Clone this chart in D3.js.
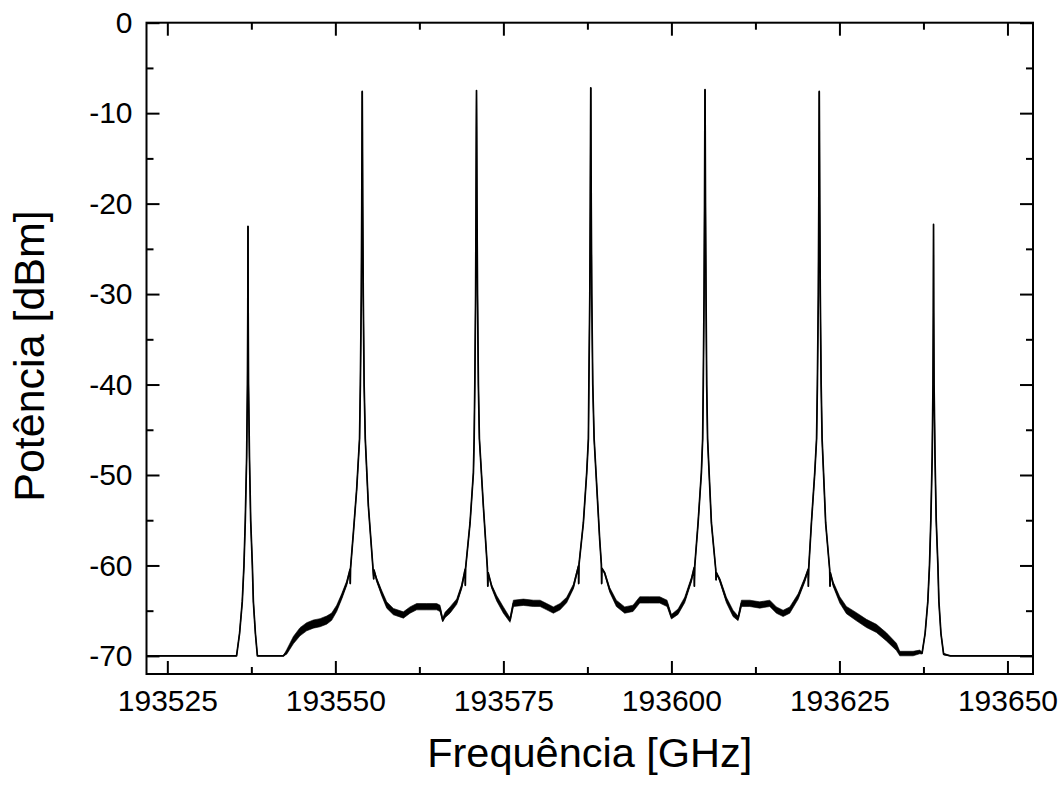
<!DOCTYPE html>
<html>
<head>
<meta charset="utf-8">
<script src="https://cdn.jsdelivr.net/npm/d3@7"></script>
<style>
  html, body { margin: 0; padding: 0; background: #fff; }
  svg { display: block; }
  text { font-family: "Liberation Sans", Arial, sans-serif; fill: #000; }
</style>
</head>
<body>
<svg id="chart" width="1061" height="785"></svg>
<script>
// ---- Data ----
const freqGHz = [
  193521.9, 193535.3,
  193535.75, 193536.15, 193536.4, 193536.6, 193536.8, 193536.92, 193536.97, 193537.0,
  193537.03, 193537.08, 193537.22, 193537.4, 193537.65, 193537.8, 193538.1, 193538.4,
  193542.26,
  193542.76, 193543.75, 193544.74, 193545.73, 193546.73, 193547.72, 193548.71, 193549.45,
  193550.2, 193550.94, 193551.69, 193552.18, 193552.22, 193552.26,
  193552.68, 193553.17, 193553.6, 193553.72, 193553.86, 193553.93, 193553.97, 193554.0,
  193554.03, 193554.07, 193554.15, 193554.28, 193554.45, 193554.91, 193555.56,
  193555.7, 193555.75, 193556.15, 193556.9, 193557.64, 193558.63, 193560.12, 193561.11,
  193562.1, 193563.59, 193565.08, 193565.57, 193565.97, 193566.32, 193567.06, 193568.06,
  193568.8, 193569.3, 193569.34, 193569.38,
  193570.04, 193570.54, 193570.65, 193570.75, 193570.87, 193570.93, 193570.97, 193571.0,
  193571.03, 193571.07, 193571.15, 193571.28, 193571.43, 193572.02, 193572.62,
  193572.68, 193572.74, 193573.26, 193574.0, 193575.0, 193575.99, 193576.49, 193577.98,
  193579.46, 193580.46, 193581.45, 193582.44, 193583.43, 193584.42, 193585.42, 193586.16,
  193586.2, 193586.25,
  193586.9, 193587.4, 193587.65, 193587.72, 193587.86, 193587.93, 193587.97, 193588.0,
  193588.03, 193588.07, 193588.15, 193588.3, 193588.5, 193589.33, 193589.58,
  193589.62, 193589.66, 193590.08, 193590.82, 193591.81, 193593.05, 193594.29, 193595.29,
  193596.77, 193598.26, 193599.35, 193600.0, 193600.99, 193601.98, 193602.97, 193603.37,
  193603.42, 193603.47,
  193603.97, 193604.46, 193604.65, 193604.74, 193604.86, 193604.93, 193604.97, 193605.0,
  193605.03, 193605.07, 193605.15, 193605.25, 193605.38, 193605.95, 193606.6,
  193606.65, 193606.7, 193607.19, 193608.18, 193609.17, 193609.92, 193610.42, 193611.66,
  193613.14, 193614.63, 193615.62, 193616.62, 193617.61, 193618.85, 193619.84, 193620.34,
  193620.38, 193620.43,
  193620.83, 193621.33, 193621.6, 193621.72, 193621.86, 193621.93, 193621.97, 193622.0,
  193622.03, 193622.07, 193622.15, 193622.28, 193622.42, 193622.95, 193623.55,
  193623.6, 193623.65, 193624.06, 193625.05, 193626.04, 193627.53, 193629.02, 193630.5,
  193631.99, 193633.48, 193633.98, 193635.96, 193636.95,
  193637.3, 193637.75, 193638.15, 193638.4, 193638.6, 193638.8, 193638.92, 193638.97, 193639.0,
  193639.03, 193639.08, 193639.22, 193639.4, 193639.65, 193639.8, 193640.1, 193640.5,
  193641.5, 193653.8
];
const powerDBm = [
  -70, -70,
  -67.5, -64, -60, -55, -48, -40, -32, -22.5,
  -32, -40, -48, -55, -60, -64, -67.5, -70,
  -70,
  -69.56, -68.26, -67.33, -66.78, -66.48, -66.33, -66.04, -65.67,
  -64.74, -63.44, -61.96, -60.48, -62.0, -60.3,
  -56.4, -51.6, -46, -40, -30, -20, -12, -7.6,
  -12, -20, -30, -40, -46, -53.4, -59.93,
  -61.5, -60.5, -61.6, -63.07, -64.37, -65.1, -65.48, -64.93,
  -64.56, -64.56, -64.56, -64.74, -66.04, -65.48, -64.93, -64.0,
  -62.33, -60.48, -62.2, -60.3,
  -55.3, -49.74, -46, -40, -30, -20, -12, -7.5,
  -12, -20, -30, -40, -46, -53.44, -60.3,
  -62.3, -60.8, -62.33, -63.63, -64.93, -66.04, -64.19, -64.07,
  -64.19, -64.19, -64.56, -64.93, -64.56, -63.81, -62.33, -60.11,
  -62.0, -59.9,
  -55.3, -49.74, -46, -40, -30, -20, -12, -7.2,
  -12, -20, -30, -40, -46, -57.15, -59.89,
  -62.0, -60.3, -60.85, -62.7, -64.19, -64.93, -64.74, -63.81,
  -63.81, -63.81, -64.19, -65.67, -65.11, -63.81, -61.59, -60.3,
  -62.3, -60.1,
  -55.3, -49.74, -46, -40, -30, -20, -12, -7.4,
  -12, -20, -30, -40, -46, -55.3, -60.48,
  -61.6, -60.8, -61.59, -63.81, -65.3, -65.85, -64.19, -64.19,
  -64.37, -64.19, -64.93, -65.3, -64.93, -63.44, -61.59, -60.48,
  -62.3, -60.3,
  -55.3, -49.74, -46, -40, -30, -20, -12, -7.6,
  -12, -20, -30, -40, -46, -55.3, -60.48,
  -62.3, -60.8, -62.04, -63.81, -64.93, -65.67, -66.41, -66.96,
  -67.89, -69.0, -69.74, -69.74, -69.56,
  -69.7, -67.5, -64, -60, -55, -48, -40, -32, -22.3,
  -32, -40, -48, -55, -60, -64, -67.5, -69.8,
  -70, -70
];
// half-width of the noise band around the trace (dB)
const noiseDB = [
  0, 0,
  0, 0, 0, 0, 0, 0, 0, 0,
  0, 0, 0, 0, 0, 0, 0, 0,
  0,
  0.25, 0.4, 0.45, 0.45, 0.45, 0.45, 0.45, 0.4,
  0.35, 0.3, 0.25, 0.15, 0, 0,
  0, 0, 0, 0, 0, 0, 0, 0,
  0, 0, 0, 0, 0, 0, 0.1,
  0, 0, 0.2, 0.3, 0.35, 0.35, 0.35, 0.35,
  0.35, 0.35, 0.35, 0.35, 0.2, 0.3, 0.35, 0.3,
  0.25, 0.15, 0, 0,
  0, 0, 0, 0, 0, 0, 0, 0,
  0, 0, 0, 0, 0, 0, 0.1,
  0, 0, 0.2, 0.3, 0.35, 0.25, 0.35, 0.35,
  0.35, 0.35, 0.35, 0.35, 0.35, 0.3, 0.25, 0.15,
  0, 0,
  0, 0, 0, 0, 0, 0, 0, 0,
  0, 0, 0, 0, 0, 0, 0.1,
  0, 0, 0.15, 0.25, 0.35, 0.35, 0.35, 0.35,
  0.35, 0.35, 0.35, 0.25, 0.3, 0.3, 0.25, 0.15,
  0, 0,
  0, 0, 0, 0, 0, 0, 0, 0,
  0, 0, 0, 0, 0, 0, 0.1,
  0, 0, 0.2, 0.3, 0.35, 0.25, 0.35, 0.35,
  0.35, 0.35, 0.35, 0.35, 0.35, 0.3, 0.25, 0.15,
  0, 0,
  0, 0, 0, 0, 0, 0, 0, 0,
  0, 0, 0, 0, 0, 0, 0.1,
  0, 0, 0.25, 0.35, 0.4, 0.45, 0.45, 0.45,
  0.45, 0.4, 0.25, 0.25, 0.2,
  0.1, 0, 0, 0, 0, 0, 0, 0, 0,
  0, 0, 0, 0, 0, 0, 0, 0.1,
  0, 0
];

const xMajorTicks = [193525, 193550, 193575, 193600, 193625, 193650];
const xMinorTicks = [193537.5, 193562.5, 193587.5, 193612.5, 193637.5];
const yMajorTicks = [0, -10, -20, -30, -40, -50, -60, -70];
const yMinorTicks = [-5, -15, -25, -35, -45, -55, -65];
const xDomain = [193521.9, 193653.8];
const yDomain = [-72, 0];
const xTitle = "Frequência [GHz]";
const yTitle = "Potência [dBm]";

// ---- Layout ----
const margin = { left: 146.5, top: 22.7, right: 1033, bottom: 674 };
const svg = d3.select("#chart");

const x = d3.scaleLinear().domain(xDomain).range([margin.left, margin.right]);
const y = d3.scaleLinear().domain(yDomain).range([margin.bottom, margin.top]);

const pts = freqGHz.map((f, i) => ({ f, p: powerDBm[i], n: noiseDB[i] }));

svg.append("defs").append("clipPath").attr("id", "plotclip")
  .append("rect")
  .attr("x", margin.left).attr("y", margin.top)
  .attr("width", margin.right - margin.left)
  .attr("height", margin.bottom - margin.top);

const g = svg.append("g").attr("clip-path", "url(#plotclip)");

// noise band
g.append("path")
  .datum(pts)
  .attr("fill", "#000")
  .attr("stroke", "#000")
  .attr("stroke-width", 0.6)
  .attr("d", d3.area()
    .x(d => x(d.f))
    .y0(d => y(d.p - d.n))
    .y1(d => y(d.p + d.n)));

// trace
g.append("path")
  .datum(pts)
  .attr("fill", "none")
  .attr("stroke", "#000")
  .attr("stroke-width", 1.7)
  .attr("stroke-linejoin", "round")
  .attr("d", d3.line().x(d => x(d.f)).y(d => y(d.p)));

// ---- Axes ----
const fmtX = d3.format("d");
const fmtY = d => String(d).replace("−", "-");

function styleAxis(sel) {
  sel.select(".domain").remove();
  sel.selectAll(".tick line").attr("stroke", "#000").attr("stroke-width", 2);
  sel.selectAll(".tick text").attr("font-size", 30).attr("fill", "#000")
    .attr("font-family", "'Liberation Sans', Arial, sans-serif");
}

// bottom
svg.append("g").attr("transform", `translate(0,${margin.bottom})`)
  .call(d3.axisBottom(x).tickValues(xMajorTicks).tickSize(-13).tickPadding(16).tickFormat(fmtX))
  .call(styleAxis);
svg.append("g").attr("transform", `translate(0,${margin.bottom})`)
  .call(d3.axisBottom(x).tickValues(xMinorTicks).tickSize(-7).tickFormat(""))
  .call(styleAxis);
// top
svg.append("g").attr("transform", `translate(0,${margin.top})`)
  .call(d3.axisTop(x).tickValues(xMajorTicks).tickSize(-13).tickFormat(""))
  .call(styleAxis);
svg.append("g").attr("transform", `translate(0,${margin.top})`)
  .call(d3.axisTop(x).tickValues(xMinorTicks).tickSize(-7).tickFormat(""))
  .call(styleAxis);
// left
svg.append("g").attr("transform", `translate(${margin.left},0)`)
  .call(d3.axisLeft(y).tickValues(yMajorTicks).tickSize(-13).tickPadding(14).tickFormat(fmtY))
  .call(styleAxis);
svg.append("g").attr("transform", `translate(${margin.left},0)`)
  .call(d3.axisLeft(y).tickValues(yMinorTicks).tickSize(-7).tickFormat(""))
  .call(styleAxis);
// right
svg.append("g").attr("transform", `translate(${margin.right},0)`)
  .call(d3.axisRight(y).tickValues(yMajorTicks).tickSize(-13).tickFormat(""))
  .call(styleAxis);
svg.append("g").attr("transform", `translate(${margin.right},0)`)
  .call(d3.axisRight(y).tickValues(yMinorTicks).tickSize(-7).tickFormat(""))
  .call(styleAxis);

// frame
svg.append("rect")
  .attr("x", margin.left).attr("y", margin.top)
  .attr("width", margin.right - margin.left)
  .attr("height", margin.bottom - margin.top)
  .attr("fill", "none").attr("stroke", "#000").attr("stroke-width", 2);

// titles
svg.append("text")
  .attr("x", (margin.left + margin.right) / 2)
  .attr("y", 767)
  .attr("text-anchor", "middle")
  .attr("font-size", 41.5)
  .text(xTitle);

svg.append("text")
  .attr("transform", `translate(44,356) rotate(-90)`)
  .attr("text-anchor", "middle")
  .attr("font-size", 43)
  .text(yTitle);
</script>
</body>
</html>
